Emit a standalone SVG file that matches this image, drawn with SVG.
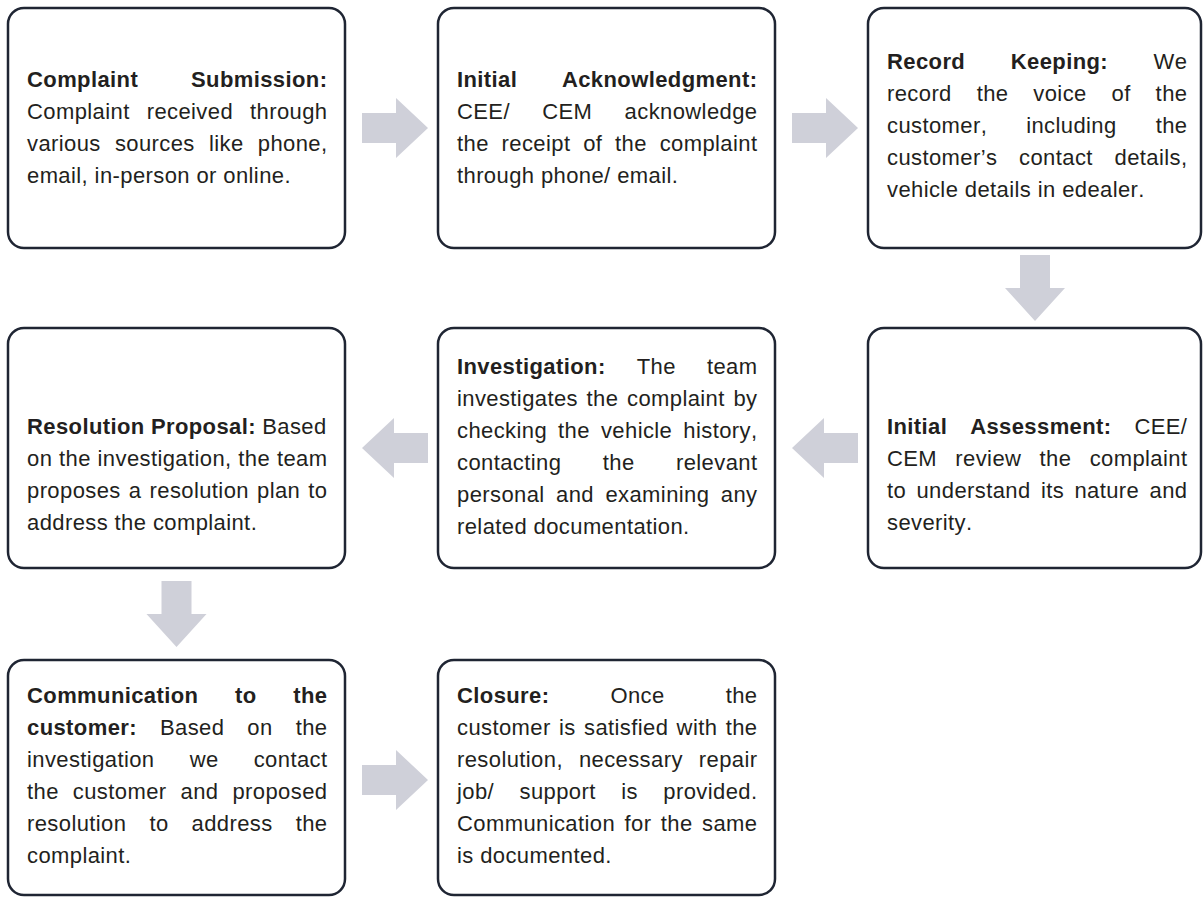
<svg xmlns="http://www.w3.org/2000/svg" width="1203" height="897" viewBox="0 0 1203 897">
<style>
.box{fill:#ffffff;stroke:#1f2533;stroke-width:2.5}
.t{font-family:"Liberation Sans",Arial,Helvetica,sans-serif;font-size:22px;letter-spacing:0.4px;fill:#231f20;font-kerning:none}
.b{font-weight:bold}
.arr{fill:#cfd0d9}
</style>
<rect width="1203" height="897" fill="#ffffff"/>
<g id="connectors">
<polygon class="arr" points="362,113 396,113 396,98 428,128 396,158 396,143 362,143"/>
<polygon class="arr" points="792,113 826,113 826,98 858,128 826,158 826,143 792,143"/>
<polygon class="arr" points="1020,255 1050,255 1050,288 1065,288 1035,321 1005,288 1020,288"/>
<polygon class="arr" points="858,433 824,433 824,418 792,448 824,478 824,463 858,463"/>
<polygon class="arr" points="428,433 394,433 394,418 362,448 394,478 394,463 428,463"/>
<polygon class="arr" points="161.5,581 191.5,581 191.5,614 206.5,614 176.5,647 146.5,614 161.5,614"/>
<polygon class="arr" points="362,765 396,765 396,750 428,780 396,810 396,795 362,795"/>
</g>
<g id="node-complaint-submission">
<rect class="box" x="8" y="8" width="337" height="240" rx="16"/>
<text class="t b" x="27" y="87" style="word-spacing:46.3px">Complaint Submission:</text>
<text class="t" x="27" y="119" style="word-spacing:10.5px">Complaint received through</text>
<text class="t" x="27" y="151" style="word-spacing:7.68px">various sources like phone,</text>
<text class="t" x="27" y="183">email, in-person or online.</text>
</g>
<g id="node-initial-acknowledgment">
<rect class="box" x="438" y="8" width="337" height="240" rx="16"/>
<text class="t b" x="457" y="87" style="word-spacing:38.16px">Initial Acknowledgment:</text>
<text class="t" x="457" y="119" style="word-spacing:25.77px">CEE/ CEM acknowledge</text>
<text class="t" x="457" y="151" style="word-spacing:6.27px">the receipt of the complaint</text>
<text class="t" x="457" y="183">through phone/ email.</text>
</g>
<g id="node-record-keeping">
<rect class="box" x="868" y="8" width="333" height="240" rx="16"/>
<text class="t" x="887" y="69" style="word-spacing:39.03px"><tspan class="b">Record Keeping:</tspan> We</text>
<text class="t" x="887" y="101" style="word-spacing:18.38px">record the voice of the</text>
<text class="t" x="887" y="133" style="word-spacing:32.5px">customer, including the</text>
<text class="t" x="887" y="165" style="word-spacing:15.2px">customer’s contact details,</text>
<text class="t" x="887" y="197">vehicle details in edealer.</text>
</g>
<g id="node-initial-assessment">
<rect class="box" x="868" y="328" width="333" height="240" rx="16"/>
<text class="t" x="887" y="434" style="word-spacing:16.4px"><tspan class="b">Initial Assessment:</tspan> CEE/</text>
<text class="t" x="887" y="466" style="word-spacing:11.76px">CEM review the complaint</text>
<text class="t" x="887" y="498" style="word-spacing:3.82px">to understand its nature and</text>
<text class="t" x="887" y="530">severity.</text>
</g>
<g id="node-investigation">
<rect class="box" x="438" y="328" width="337" height="240" rx="16"/>
<text class="t" x="457" y="374" style="word-spacing:24.56px"><tspan class="b">Investigation:</tspan> The team</text>
<text class="t" x="457" y="406" style="word-spacing:2.11px">investigates the complaint by</text>
<text class="t" x="457" y="438" style="word-spacing:4.56px">checking the vehicle history,</text>
<text class="t" x="457" y="470" style="word-spacing:34.93px">contacting the relevant</text>
<text class="t" x="457" y="502" style="word-spacing:4.96px">personal and examining any</text>
<text class="t" x="457" y="534">related documentation.</text>
</g>
<g id="node-resolution-proposal">
<rect class="box" x="8" y="328" width="337" height="240" rx="16"/>
<text class="t" x="27" y="434" style="word-spacing:-0.27px"><tspan class="b">Resolution Proposal:</tspan> Based</text>
<text class="t" x="27" y="466" style="word-spacing:0.25px">on the investigation, the team</text>
<text class="t" x="27" y="498" style="word-spacing:1.58px">proposes a resolution plan to</text>
<text class="t" x="27" y="530">address the complaint.</text>
</g>
<g id="node-communication">
<rect class="box" x="8" y="660" width="337" height="235" rx="16"/>
<text class="t b" x="27" y="703" style="word-spacing:30.08px">Communication to the</text>
<text class="t" x="27" y="735" style="word-spacing:16.5px"><tspan class="b">customer:</tspan> Based on the</text>
<text class="t" x="27" y="767" style="word-spacing:28.63px">investigation we contact</text>
<text class="t" x="27" y="799" style="word-spacing:7.53px">the customer and proposed</text>
<text class="t" x="27" y="831" style="word-spacing:16.5px">resolution to address the</text>
<text class="t" x="27" y="863">complaint.</text>
</g>
<g id="node-closure">
<rect class="box" x="438" y="660" width="337" height="235" rx="16"/>
<text class="t" x="457" y="703" style="word-spacing:54.49px"><tspan class="b">Closure:</tspan> Once the</text>
<text class="t" x="457" y="735" style="word-spacing:1.8px">customer is satisfied with the</text>
<text class="t" x="457" y="767" style="word-spacing:9.5px">resolution, necessary repair</text>
<text class="t" x="457" y="799" style="word-spacing:18.95px">job/ support is provided.</text>
<text class="t" x="457" y="831" style="word-spacing:2.93px">Communication for the same</text>
<text class="t" x="457" y="863">is documented.</text>
</g>
</svg>
